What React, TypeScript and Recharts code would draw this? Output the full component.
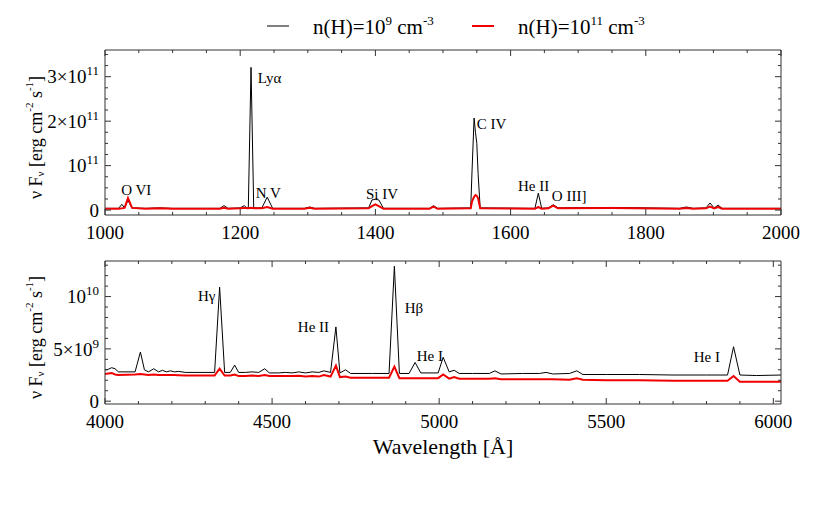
import React from 'react';
import { LineChart, Line, XAxis, YAxis, ReferenceDot, Label, Legend } from 'recharts';

const FONT = "'Liberation Serif', 'Times New Roman', serif";
const AXIS = '#333';

// ---- UV panel, 1000–2000 Å ----
const uvWave = [
    1000, 1020, 1025, 1029, 1034, 1040, 1060, 1080, 1100, 1150, 1170, 1176, 1182, 1200, 1206, 1210,
    1212, 1216, 1220, 1232, 1240, 1248, 1295, 1303, 1310, 1390, 1395, 1400, 1405, 1412, 1480, 1486,
    1492, 1541, 1543, 1546, 1548, 1550, 1552, 1555, 1636, 1641, 1646, 1656, 1663, 1670, 1750, 1850,
    1860, 1870, 1889, 1895, 1901, 1907, 1913, 2000,
];
// n(H)=1e9
const uvLow = [
    0.04e11, 0.04e11, 0.13e11, 0.05e11, 0.22e11, 0.05e11, 0.04e11, 0.05e11, 0.04e11, 0.04e11, 0.04e11, 0.1e11, 0.04e11, 0.05e11, 0.1e11, 0.05e11,
    0.05e11, 3.21e11, 0.05e11, 0.05e11, 0.29e11, 0.04e11, 0.04e11, 0.07e11, 0.04e11, 0.05e11, 0.23e11, 0.24e11, 0.23e11, 0.04e11, 0.04e11, 0.1e11,
    0.04e11, 0.05e11, 0.9e11, 2.07e11, 1.75e11, 1.5e11, 0.8e11, 0.05e11, 0.04e11, 0.38e11, 0.04e11, 0.05e11, 0.12e11, 0.05e11, 0.06e11, 0.04e11,
    0.07e11, 0.04e11, 0.05e11, 0.16e11, 0.05e11, 0.11e11, 0.04e11, 0.04e11,
];
// n(H)=1e11
const uvHigh = [
    0.03e11, 0.03e11, 0.04e11, 0.05e11, 0.27e11, 0.05e11, 0.03e11, 0.04e11, 0.03e11, 0.03e11, 0.03e11, 0.05e11, 0.03e11, 0.04e11, 0.05e11, 0.04e11,
    0.04e11, 0.05e11, 0.04e11, 0.04e11, 0.07e11, 0.03e11, 0.03e11, 0.05e11, 0.03e11, 0.04e11, 0.09e11, 0.13e11, 0.09e11, 0.03e11, 0.03e11, 0.08e11,
    0.03e11, 0.04e11, 0.2e11, 0.3e11, 0.34e11, 0.32e11, 0.26e11, 0.04e11, 0.03e11, 0.07e11, 0.03e11, 0.04e11, 0.1e11, 0.04e11, 0.05e11, 0.03e11,
    0.05e11, 0.03e11, 0.04e11, 0.08e11, 0.04e11, 0.07e11, 0.03e11, 0.03e11,
];

const uvXTicks = [
    1000, 1050, 1100, 1150, 1200, 1250, 1300, 1350, 1400, 1450, 1500,
    1550, 1600, 1650, 1700, 1750, 1800, 1850, 1900, 1950, 2000,
];
const uvXMajor = [1000, 1200, 1400, 1600, 1800, 2000];
const uvYTicks = [
    0, 0.25e11, 0.5e11, 0.75e11, 1e11, 1.25e11, 1.5e11, 1.75e11,
    2e11, 2.25e11, 2.5e11, 2.75e11, 3e11, 3.25e11, 3.5e11,
];
const uvYLabels = [
    { value: 0, base: '0', sup: '' },
    { value: 1e11, base: '10', sup: '11' },
    { value: 2e11, base: '2×10', sup: '11' },
    { value: 3e11, base: '3×10', sup: '11' },
];
const uvNotes = [
    { w: 1024, v: 0.34e11, text: 'O VI' },
    { w: 1226, v: 2.85e11, text: 'Lyα' },
    { w: 1223, v: 0.27e11, text: 'N V' },
    { w: 1386, v: 0.25e11, text: 'Si IV' },
    { w: 1550, v: 1.82e11, text: 'C IV' },
    { w: 1611, v: 0.43e11, text: 'He II' },
    { w: 1661, v: 0.2e11, text: 'O III]' },
];

// ---- optical panel, 4000–6020 Å ----
const optWave = [
    4000, 4010, 4020, 4030, 4040, 4090, 4106, 4118, 4130, 4146, 4160, 4172, 4184, 4196, 4208, 4220,
    4240, 4328, 4343, 4358, 4375, 4388, 4400, 4420, 4440, 4460, 4478, 4492, 4520, 4540, 4560, 4580,
    4600, 4620, 4640, 4655, 4675, 4691, 4703, 4720, 4735, 4800, 4850, 4866, 4881, 4910, 4928, 4945,
    4997, 5012, 5030, 5045, 5060, 5100, 5150, 5167, 5185, 5250, 5300, 5320, 5340, 5390, 5412, 5430,
    5500, 5600, 5700, 5800, 5863, 5881, 5900, 5950, 6023,
];
const optLow = [
    3.0e9, 3.05e9, 3.2e9, 3.1e9, 2.8e9, 2.8e9, 4.7e9, 3.0e9, 2.8e9, 3.1e9, 2.8e9, 2.95e9, 2.8e9, 2.9e9, 2.8e9, 2.85e9,
    2.75e9, 2.75e9, 10.9e9, 2.75e9, 2.75e9, 3.45e9, 2.75e9, 2.75e9, 2.8e9, 2.75e9, 3.1e9, 2.7e9, 2.7e9, 2.75e9, 2.7e9, 2.8e9,
    2.7e9, 2.8e9, 2.75e9, 2.9e9, 2.75e9, 7.1e9, 2.7e9, 3.0e9, 2.65e9, 2.65e9, 2.65e9, 12.9e9, 2.65e9, 2.65e9, 3.7e9, 2.7e9,
    2.7e9, 4.2e9, 2.8e9, 2.95e9, 2.65e9, 2.65e9, 2.65e9, 2.9e9, 2.6e9, 2.65e9, 2.65e9, 2.75e9, 2.6e9, 2.65e9, 2.9e9, 2.55e9,
    2.55e9, 2.55e9, 2.5e9, 2.5e9, 2.5e9, 5.2e9, 2.5e9, 2.45e9, 2.5e9,
];
const optHigh = [
    2.6e9, 2.65e9, 2.7e9, 2.55e9, 2.5e9, 2.55e9, 2.6e9, 2.55e9, 2.5e9, 2.55e9, 2.5e9, 2.5e9, 2.5e9, 2.5e9, 2.5e9, 2.48e9,
    2.45e9, 2.45e9, 3.1e9, 2.45e9, 2.45e9, 2.55e9, 2.4e9, 2.4e9, 2.45e9, 2.4e9, 2.5e9, 2.4e9, 2.4e9, 2.4e9, 2.4e9, 2.42e9,
    2.35e9, 2.4e9, 2.35e9, 2.5e9, 2.35e9, 3.4e9, 2.3e9, 2.35e9, 2.25e9, 2.25e9, 2.25e9, 3.3e9, 2.2e9, 2.2e9, 2.2e9, 2.2e9,
    2.2e9, 2.55e9, 2.15e9, 2.3e9, 2.15e9, 2.15e9, 2.15e9, 2.2e9, 2.1e9, 2.1e9, 2.1e9, 2.1e9, 2.1e9, 2.05e9, 2.2e9, 2.05e9,
    2.0e9, 2.0e9, 1.95e9, 1.95e9, 1.95e9, 2.4e9, 1.85e9, 1.85e9, 1.85e9,
];

const optXTicks = [
    4000, 4100, 4200, 4300, 4400, 4500, 4600, 4700, 4800, 4900, 5000,
    5100, 5200, 5300, 5400, 5500, 5600, 5700, 5800, 5900, 6000,
];
const optXMajor = [4000, 4500, 5000, 5500, 6000];
const optYTicks = [0, 1e9, 2e9, 3e9, 4e9, 5e9, 6e9, 7e9, 8e9, 9e9, 10e9, 11e9, 12e9, 13e9];
const optYLabels = [
    { value: 0, base: '0', sup: '' },
    { value: 5e9, base: '5×10', sup: '9' },
    { value: 10e9, base: '10', sup: '10' },
];
const optNotes = [
    { w: 4278, v: 9.55e9, text: 'Hγ' },
    { w: 4577, v: 6.6e9, text: 'He II' },
    { w: 4897, v: 8.4e9, text: 'Hβ' },
    { w: 4933, v: 3.85e9, text: 'He I' },
    { w: 5762, v: 3.75e9, text: 'He I' },
];

const seriesNames = [
    { base: 'n(H)=10', exp: '9', color: '#000' },
    { base: 'n(H)=10', exp: '11', color: '#f00000' },
];

const uvData = uvWave.map((w, i) => ({ w, low: uvLow[i], high: uvHigh[i] }));
const optData = optWave.map((w, i) => ({ w, low: optLow[i], high: optHigh[i] }));

const XTick = ({ x, y, payload, majors, side, showLabel }: any) => {
    const major = majors.includes(payload.value);
    const len = major ? 6 : 3;
    const dir = side === 'bottom' ? -1 : 1;
    return (
        <g>
            <line x1={x} x2={x} y1={y} y2={y + dir * len} stroke={AXIS} />
            {showLabel && major && (
                <text x={x} y={y + 24} textAnchor="middle" fontSize={19} fontFamily={FONT} fill="#000">
                    {payload.value}
                </text>
            )}
        </g>
    );
};

const YTick = ({ x, y, payload, labels, side }: any) => {
    const lab = labels ? labels.find((l: any) => l.value === payload.value) : null;
    const len = lab || side === 'right-major' ? 6 : 3;
    const dir = side === 'left' ? 1 : -1;
    return (
        <g>
            <line x1={x} x2={x + dir * len} y1={y} y2={y} stroke={AXIS} />
            {side === 'left' && lab && (
                <text x={x - 6} y={y} dy="0.35em" textAnchor="end" fontSize={19} fontFamily={FONT} fill="#000">
                    <tspan>{lab.base}</tspan>
                    {lab.sup && (
                        <tspan dy={-8} fontSize={13}>
                            {lab.sup}
                        </tspan>
                    )}
                </text>
            )}
        </g>
    );
};

const YTitle = ({ viewBox }: any) => {
    const cx = viewBox.x - 68;
    const cy = viewBox.y + viewBox.height / 2 + 5;
    return (
        <text
            x={cx}
            y={cy}
            transform={`rotate(-90 ${cx} ${cy})`}
            textAnchor="middle"
            dominantBaseline="central"
            fontSize={18}
            fontFamily={FONT}
            fill="#000"
        >
            <tspan>ν F</tspan>
            <tspan fontSize={11} dy={4}>ν</tspan>
            <tspan dy={-4}> [erg cm</tspan>
            <tspan fontSize={11} dy={-7}>-2</tspan>
            <tspan dy={7}> s</tspan>
            <tspan fontSize={11} dy={-7}>-1</tspan>
            <tspan dy={7}>]</tspan>
        </text>
    );
};

const LegendContent = () => (
    <svg width={830} height={45}>
        {seriesNames.map((s, i) => {
            const x0 = i === 0 ? 267 : 472;
            return (
                <g key={i}>
                    <line x1={x0} x2={x0 + 22} y1={26} y2={26} stroke={s.color} strokeWidth={i === 0 ? 1 : 2} />
                    <text x={x0 + 46} y={34} fontSize={21} fontFamily={FONT} fill="#000">
                        <tspan>{s.base}</tspan>
                        <tspan fontSize={13} dy={-9}>{s.exp}</tspan>
                        <tspan dy={9}> cm</tspan>
                        <tspan fontSize={13} dy={-9}>-3</tspan>
                    </text>
                </g>
            );
        })}
    </svg>
);

const Note = ({ cx, cy, text }: any) => (
    <text x={cx} y={cy} fontSize={15} fontFamily={FONT} fill="#000">
        {text}
    </text>
);

function Panel({ data, domainX, domainY, xTicks, xMajor, yTicks, yLabels, notes, margin, height, legend, title }: any) {
    return (
        <LineChart width={830} height={height} data={data} margin={margin}>
            {legend && (
                <Legend
                    layout="horizontal"
                    verticalAlign="middle"
                    align="center"
                    wrapperStyle={{ top: 0, left: 0, width: 830, height: 45 }}
                    content={<LegendContent />}
                />
            )}
            <XAxis
                xAxisId="b"
                dataKey="w"
                type="number"
                domain={domainX}
                allowDataOverflow
                ticks={xTicks}
                interval={0}
                height={1}
                tickLine={false}
                tickSize={0}
                tickMargin={0}
                axisLine={{ stroke: AXIS }}
                tick={(p: any) => <XTick {...p} majors={xMajor} side="bottom" showLabel />}
            >
                {title && (
                    <Label
                        value={title}
                        position="bottom"
                        offset={33}
                        style={{ fontSize: 22, fontFamily: FONT, fill: '#000' }}
                    />
                )}
            </XAxis>
            <XAxis
                xAxisId="t"
                orientation="top"
                dataKey="w"
                type="number"
                domain={domainX}
                allowDataOverflow
                ticks={xTicks}
                interval={0}
                height={1}
                tickLine={false}
                tickSize={0}
                tickMargin={0}
                axisLine={{ stroke: AXIS }}
                tick={(p: any) => <XTick {...p} majors={xMajor} side="top" />}
            />
            <YAxis
                yAxisId="l"
                type="number"
                domain={domainY}
                allowDataOverflow
                ticks={yTicks}
                interval={0}
                width={1}
                tickLine={false}
                tickSize={0}
                tickMargin={0}
                axisLine={{ stroke: AXIS }}
                tick={(p: any) => <YTick {...p} labels={yLabels} side="left" />}
            >
                <Label content={<YTitle />} />
            </YAxis>
            <YAxis
                yAxisId="r"
                orientation="right"
                type="number"
                domain={domainY}
                allowDataOverflow
                ticks={yTicks}
                interval={0}
                width={1}
                tickLine={false}
                tickSize={0}
                tickMargin={0}
                axisLine={{ stroke: AXIS }}
                tick={(p: any) => (
                    <YTick
                        {...p}
                        side={yLabels.some((l: any) => l.value === p.payload.value) ? 'right-major' : 'right'}
                    />
                )}
            />
            <Line
                xAxisId="b"
                yAxisId="l"
                type="linear"
                dataKey="low"
                stroke="#000"
                strokeWidth={1}
                dot={false}
                isAnimationActive={false}
            />
            <Line
                xAxisId="b"
                yAxisId="l"
                type="linear"
                dataKey="high"
                stroke="#f00000"
                strokeWidth={2}
                dot={false}
                isAnimationActive={false}
            />
            {notes.map((n: any, i: number) => (
                <ReferenceDot
                    key={i}
                    xAxisId="b"
                    yAxisId="l"
                    x={n.w}
                    y={n.v}
                    r={0}
                    shape={(p: any) => <Note cx={p.cx} cy={p.cy} text={n.text} />}
                />
            ))}
        </LineChart>
    );
}

export default function App() {
    return (
        <div style={{ position: 'absolute', left: 0, top: 0, width: 830, height: 510, background: '#fff' }}>
            <div style={{ position: 'absolute', left: 0, top: 0 }}>
                <Panel
                    data={uvData}
                    domainX={[1000, 2000]}
                    domainY={[-0.11e11, 3.6e11]}
                    xTicks={uvXTicks}
                    xMajor={uvXMajor}
                    yTicks={uvYTicks}
                    yLabels={uvYLabels}
                    notes={uvNotes}
                    margin={{ top: 49, right: 48, bottom: 34, left: 104 }}
                    height={250}
                    legend
                />
            </div>
            <div style={{ position: 'absolute', left: 0, top: 250 }}>
                <Panel
                    data={optData}
                    domainX={[4000, 6023]}
                    domainY={[-0.27e9, 13.4e9]}
                    xTicks={optXTicks}
                    xMajor={optXMajor}
                    yTicks={optYTicks}
                    yLabels={optYLabels}
                    notes={optNotes}
                    margin={{ top: 10, right: 48, bottom: 105, left: 104 }}
                    height={260}
                    title="Wavelength [Å]"
                />
            </div>
        </div>
    );
}
